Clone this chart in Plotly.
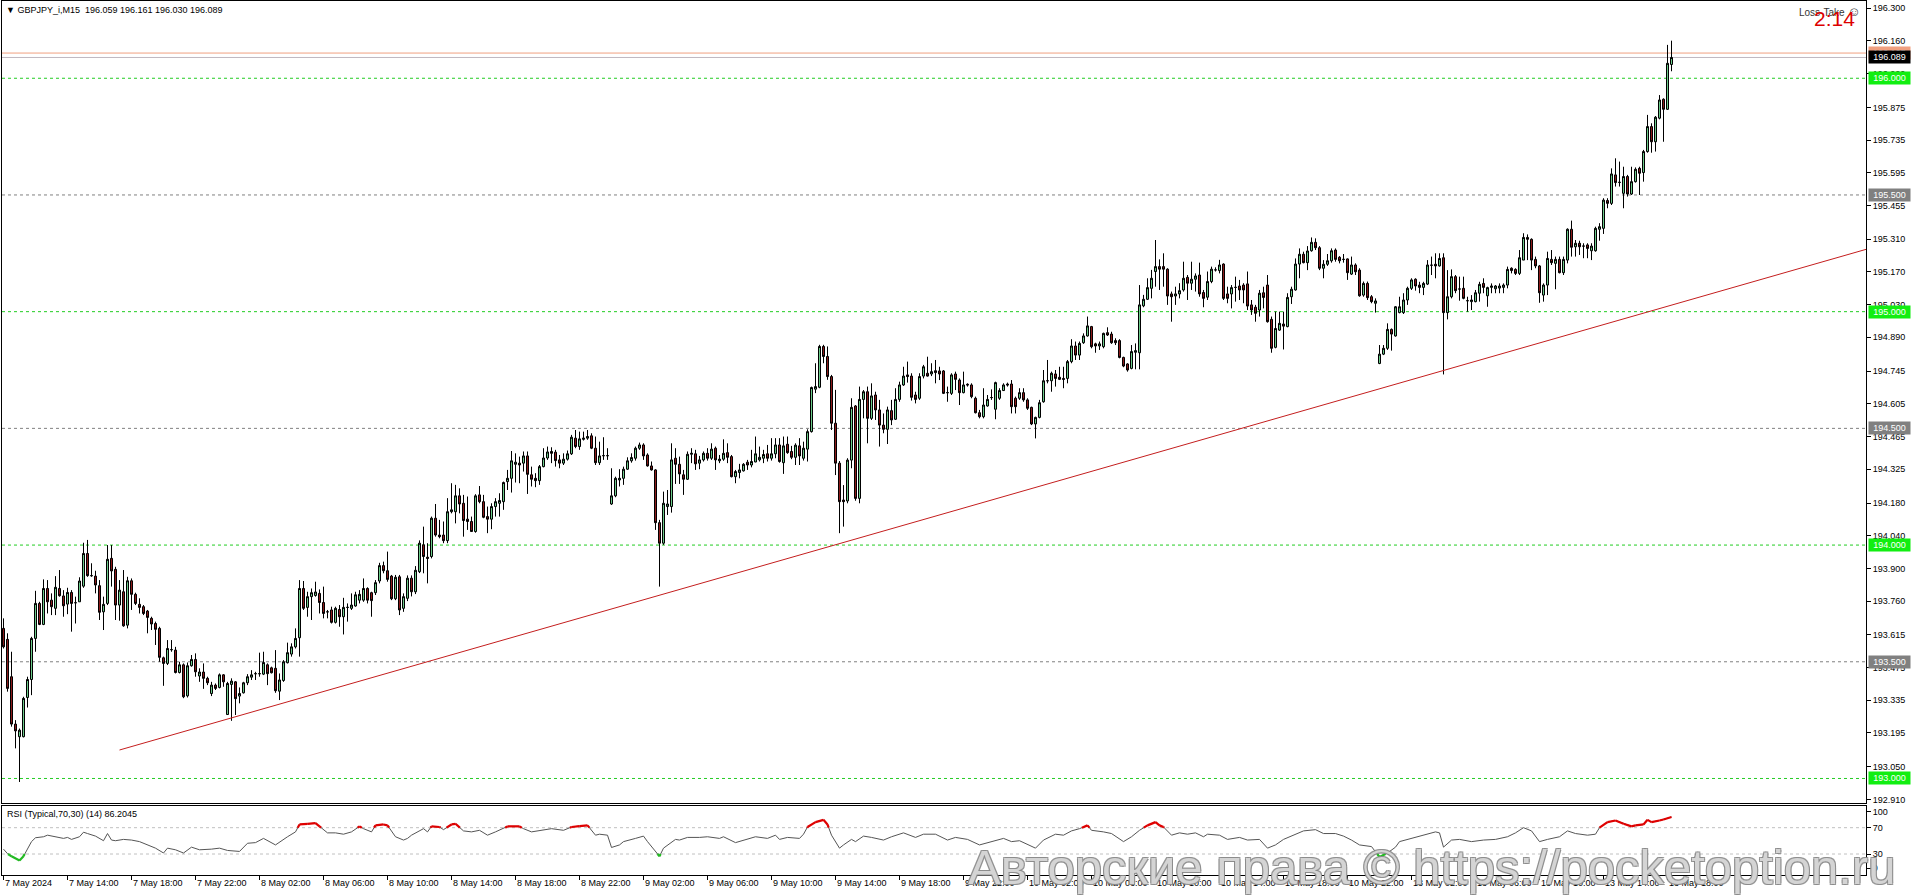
import plotly.graph_objects as go

# ---------------- data (GBPJPY_i, M15) ----------------
open_ = [
193.643,193.596,193.436,193.233,193.179,193.179,193.347,193.424,193.600,193.750,
193.660,193.814,193.764,193.729,193.814,193.782,193.747,193.797,193.753,193.757,
193.824,193.964,193.869,193.867,193.826,193.714,193.750,193.943,193.896,193.743,
193.800,193.657,193.847,193.789,193.746,193.736,193.717,193.686,193.664,193.643,
193.517,193.493,193.552,193.550,193.454,193.487,193.354,193.483,193.510,193.439,
193.456,193.429,193.364,193.400,193.390,193.444,193.274,193.403,193.414,193.353,
193.367,193.410,193.434,193.449,193.449,193.447,193.487,193.474,193.472,193.374,
193.420,193.496,193.533,193.564,193.603,193.814,193.733,193.779,193.784,193.793,
193.754,193.714,193.722,193.669,193.724,193.693,193.733,193.729,193.739,193.764,
193.764,193.814,193.796,193.796,193.846,193.912,193.890,193.867,193.770,193.864,
193.729,193.772,193.858,193.800,193.886,194.001,193.948,193.951,194.115,194.043,
194.043,194.019,194.143,194.143,194.211,194.179,194.111,194.101,194.058,194.215,
194.186,194.122,194.111,194.165,194.179,194.186,194.272,194.286,194.346,194.351,
194.351,194.382,194.301,194.286,194.276,194.336,194.373,194.401,194.398,194.365,
194.351,194.368,194.391,194.458,194.422,194.453,194.458,194.468,194.415,194.353,
194.383,194.383,194.176,194.211,194.279,194.286,194.325,194.361,194.372,194.415,
194.429,194.386,194.339,194.322,194.096,194.008,194.165,194.165,194.372,194.346,
194.301,194.282,194.389,194.391,194.351,194.365,194.393,194.372,194.415,194.361,
194.368,194.396,194.379,194.293,194.311,194.318,194.355,194.343,194.356,194.365,
194.372,194.391,194.372,194.391,194.429,194.353,194.432,194.401,194.376,194.425,
194.372,194.411,194.486,194.668,194.676,194.851,194.808,194.722,194.522,194.351,
194.193,194.189,194.364,194.596,194.200,194.624,194.657,194.543,194.643,194.579,
194.514,194.496,194.576,194.539,194.624,194.686,194.729,194.724,194.643,194.629,
194.724,194.736,194.733,194.747,194.746,194.746,194.653,194.650,194.733,194.707,
194.653,194.689,194.686,194.629,194.567,194.550,194.596,194.632,194.582,194.629,
194.662,194.690,194.690,194.629,194.629,194.653,194.622,194.590,194.519,194.547,
194.614,194.704,194.704,194.733,194.719,194.714,194.714,194.786,194.853,194.814,
194.867,194.896,194.936,194.862,194.853,194.850,194.910,194.904,194.876,194.876,
194.804,194.776,194.757,194.826,194.824,195.025,195.053,195.100,195.172,195.193,
195.193,195.182,195.076,195.067,195.076,195.093,195.147,195.122,195.139,195.157,
195.082,195.062,195.129,195.179,195.176,195.204,195.076,195.076,195.104,195.110,
195.114,195.119,195.029,195.019,195.007,195.081,195.114,194.967,194.847,194.921,
194.947,194.936,195.064,195.093,195.204,195.246,195.210,195.261,195.297,195.274,
195.186,195.203,195.218,195.264,195.233,195.224,195.226,195.161,195.200,195.178,
195.071,195.121,195.064,195.036,194.778,194.818,194.843,194.924,194.896,194.996,
194.996,195.050,195.100,195.139,195.114,195.104,195.118,195.199,195.203,195.196,
195.231,194.996,195.064,195.150,195.097,195.100,195.047,195.043,195.043,195.079,
195.121,195.068,195.104,195.098,195.101,195.104,195.114,195.186,195.181,195.164,
195.221,195.318,195.310,195.224,195.196,195.071,195.114,195.224,195.207,195.224,
195.167,195.221,195.353,195.278,195.293,195.281,195.286,195.261,195.261,195.353,
195.357,195.476,195.464,195.586,195.554,195.507,195.579,195.504,195.557,195.614,
195.596,195.686,195.793,195.728,195.829,195.910,195.867,196.059]

high_ = [
193.686,193.622,193.543,193.250,193.214,193.350,193.436,193.607,193.804,193.757,
193.853,193.850,193.793,193.867,193.893,193.807,193.817,193.807,193.779,193.862,
194.010,194.022,193.922,193.890,193.850,193.779,194.000,194.000,193.907,193.850,
193.893,193.864,193.857,193.796,193.772,193.743,193.722,193.693,193.672,193.650,
193.522,193.593,193.593,193.564,193.500,193.493,193.497,193.529,193.536,193.472,
193.493,193.436,193.414,193.407,193.450,193.447,193.414,193.429,193.417,193.390,
193.414,193.447,193.464,193.457,193.539,193.543,193.493,193.479,193.550,193.450,
193.507,193.582,193.579,193.643,193.850,193.846,193.800,193.814,193.843,193.810,
193.822,193.722,193.736,193.736,193.743,193.774,193.750,193.793,193.800,193.807,
193.857,193.819,193.800,193.850,193.924,193.929,193.972,193.872,193.872,193.872,
193.793,193.870,193.870,193.910,194.020,194.079,194.008,194.122,194.176,194.108,
194.101,194.201,194.265,194.258,194.243,194.215,194.208,194.122,194.218,194.253,
194.215,194.165,194.179,194.201,194.222,194.272,194.322,194.403,194.393,194.379,
194.401,194.401,194.336,194.308,194.343,194.415,194.422,194.419,194.408,194.386,
194.393,194.405,194.472,194.493,194.486,194.486,194.493,194.479,194.465,194.443,
194.462,194.415,194.329,194.293,194.325,194.336,194.376,194.393,194.422,194.439,
194.436,194.393,194.358,194.325,194.108,194.229,194.236,194.436,194.415,194.379,
194.322,194.401,194.415,194.408,194.382,194.401,194.415,194.436,194.422,194.386,
194.453,194.436,194.386,194.322,194.348,194.351,194.365,194.408,194.465,194.422,
194.408,194.429,194.458,194.458,194.458,194.465,194.465,194.425,194.436,194.458,
194.443,194.496,194.679,194.779,194.858,194.858,194.851,194.729,194.665,194.360,
194.257,194.372,194.629,194.600,194.679,194.664,194.679,194.693,194.657,194.622,
194.564,194.593,194.622,194.672,194.700,194.764,194.786,194.736,194.657,194.736,
194.772,194.807,194.779,194.793,194.764,194.750,194.679,194.736,194.743,194.714,
194.743,194.693,194.693,194.636,194.579,194.672,194.643,194.667,194.700,194.672,
194.693,194.696,194.707,194.636,194.672,194.672,194.629,194.593,194.550,194.622,
194.750,194.793,194.743,194.750,194.764,194.764,194.793,194.882,194.872,194.872,
194.907,194.979,194.939,194.867,194.872,194.910,194.933,194.914,194.886,194.882,
194.807,194.779,194.857,194.864,195.114,195.072,195.143,195.179,195.307,195.224,
195.250,195.186,195.086,195.107,195.122,195.214,195.157,195.214,195.164,195.210,
195.093,195.172,195.193,195.190,195.222,195.207,195.107,195.114,195.150,195.136,
195.122,195.172,195.050,195.029,195.093,195.107,195.157,194.979,195.000,195.000,
195.000,195.079,195.107,195.228,195.271,195.257,195.281,195.318,195.314,195.281,
195.221,195.247,195.271,195.271,195.238,195.247,195.228,195.236,195.207,195.186,
195.129,195.129,195.071,195.057,194.857,194.857,194.950,194.928,195.024,195.064,
195.079,195.107,195.143,195.143,195.128,195.128,195.221,195.236,195.250,195.250,
195.250,195.178,195.181,195.157,195.150,195.150,195.064,195.071,195.093,195.128,
195.143,195.107,195.121,195.114,195.121,195.121,195.193,195.190,195.186,195.264,
195.336,195.331,195.314,195.236,195.200,195.121,195.257,195.264,195.236,195.236,
195.236,195.357,195.390,195.307,195.304,195.293,195.293,195.293,195.364,195.379,
195.486,195.486,195.614,195.657,195.643,195.621,195.586,195.621,195.618,195.621,
195.693,195.843,195.807,195.838,195.928,195.914,196.143,196.161]

low_ = [
193.557,193.372,193.222,193.129,192.985,193.176,193.304,193.357,193.543,193.657,
193.657,193.707,193.700,193.700,193.779,193.693,193.704,193.629,193.664,193.757,
193.817,193.864,193.864,193.793,193.679,193.636,193.743,193.822,193.679,193.676,
193.650,193.643,193.722,193.743,193.707,193.700,193.622,193.636,193.572,193.500,
193.397,193.486,193.543,193.450,193.450,193.344,193.347,193.479,193.436,193.414,
193.384,193.400,193.353,193.379,193.386,193.393,193.272,193.247,193.272,193.322,
193.364,193.400,193.422,193.422,193.436,193.443,193.400,193.450,193.367,193.336,
193.414,193.493,193.522,193.557,193.522,193.722,193.693,193.679,193.779,193.707,
193.686,193.686,193.664,193.664,193.650,193.617,193.672,193.722,193.736,193.750,
193.757,193.750,193.693,193.786,193.836,193.879,193.843,193.764,193.764,193.700,
193.714,193.760,193.780,193.790,193.880,193.879,193.836,193.943,194.036,194.029,
194.008,194.008,194.136,194.093,194.136,194.036,194.065,194.058,194.053,194.179,
194.115,194.051,194.068,194.122,194.122,194.151,194.236,194.225,194.268,194.265,
194.315,194.219,194.251,194.248,194.258,194.333,194.365,194.351,194.336,194.329,
194.343,194.362,194.386,194.415,194.408,194.448,194.451,194.411,194.343,194.343,
194.365,194.365,194.172,194.205,194.251,194.258,194.322,194.353,194.362,194.408,
194.365,194.336,194.319,194.065,193.822,194.001,194.129,194.139,194.262,194.262,
194.215,194.279,194.351,194.322,194.325,194.358,194.362,194.365,194.322,194.351,
194.361,194.351,194.290,194.265,194.286,194.315,194.322,194.333,194.355,194.358,
194.351,194.358,194.362,194.372,194.353,194.305,194.391,194.368,194.343,194.343,
194.362,194.358,194.482,194.651,194.672,194.779,194.708,194.493,194.300,194.051,
194.079,194.179,194.329,194.190,194.179,194.543,194.436,194.536,194.536,194.422,
194.479,194.433,194.514,194.536,194.614,194.682,194.696,194.619,194.607,194.622,
194.714,194.722,194.724,194.693,194.707,194.647,194.614,194.643,194.664,194.600,
194.650,194.679,194.629,194.564,194.543,194.543,194.593,194.622,194.539,194.622,
194.660,194.679,194.564,194.564,194.622,194.614,194.579,194.514,194.457,194.543,
194.610,194.693,194.657,194.679,194.707,194.672,194.693,194.779,194.793,194.793,
194.862,194.893,194.843,194.824,194.836,194.843,194.896,194.862,194.857,194.800,
194.762,194.743,194.753,194.753,194.753,195.019,195.050,195.057,195.107,195.093,
195.107,195.029,194.957,195.029,195.057,195.086,195.050,195.093,195.086,195.064,
195.019,195.050,195.122,195.172,195.164,195.050,195.036,195.014,195.043,195.050,
195.036,195.007,194.986,194.957,194.979,195.014,194.953,194.824,194.843,194.918,
194.838,194.933,195.033,195.090,195.143,195.207,195.178,195.257,195.264,195.178,
195.143,195.196,195.210,195.214,195.207,195.210,195.136,195.157,195.157,195.064,
195.064,195.050,195.036,194.996,194.775,194.814,194.836,194.833,194.893,194.993,
194.990,195.029,195.093,195.090,195.079,195.071,195.114,195.157,195.143,195.193,
194.731,194.967,195.057,195.079,195.047,195.053,195.000,195.007,195.040,195.043,
195.079,195.021,195.079,195.079,195.079,195.079,195.100,195.164,195.157,195.157,
195.221,195.221,195.178,195.186,195.038,195.043,195.071,195.200,195.096,195.164,
195.157,195.207,195.236,195.236,195.243,195.229,195.229,195.221,195.257,195.304,
195.333,195.443,195.457,195.536,195.536,195.443,195.493,195.500,195.553,195.500,
195.557,195.681,195.681,195.686,195.824,195.728,195.864,196.030]

close_ = [
193.564,193.386,193.233,193.204,193.207,193.343,193.424,193.600,193.750,193.660,
193.814,193.757,193.736,193.819,193.783,193.740,193.797,193.750,193.753,193.846,
193.964,193.869,193.869,193.829,193.712,193.746,193.939,193.889,193.743,193.807,
193.654,193.847,193.789,193.750,193.733,193.707,193.690,193.662,193.639,193.519,
193.493,193.557,193.552,193.454,193.487,193.350,193.483,193.510,193.457,193.456,
193.429,193.410,193.400,193.386,193.444,193.414,193.407,193.417,193.342,193.364,
193.410,193.436,193.444,193.449,193.449,193.497,193.449,193.453,193.376,193.422,
193.500,193.539,193.564,193.600,193.814,193.729,193.779,193.796,193.799,193.754,
193.707,193.714,193.669,193.729,193.693,193.733,193.733,193.743,193.787,193.789,
193.814,193.764,193.762,193.839,193.912,193.890,193.853,193.770,193.862,193.722,
193.779,193.858,193.800,193.892,194.008,193.951,193.943,194.115,194.043,194.036,
194.019,194.143,194.151,194.211,194.176,194.105,194.101,194.058,194.211,194.186,
194.119,194.111,194.165,194.186,194.191,194.268,194.286,194.361,194.355,194.343,
194.382,194.303,194.282,194.276,194.336,194.373,194.399,194.393,194.362,194.351,
194.368,194.391,194.462,194.422,194.455,194.458,194.465,194.415,194.353,194.382,
194.383,194.383,194.211,194.286,194.286,194.325,194.361,194.375,194.415,194.429,
194.382,194.339,194.322,194.096,194.008,194.179,194.176,194.365,194.346,194.305,
194.282,194.389,194.393,194.348,194.365,194.393,194.372,194.411,194.365,194.368,
194.393,194.376,194.293,194.315,194.322,194.346,194.343,194.358,194.391,194.376,
194.388,194.372,194.391,194.429,194.358,194.425,194.396,194.376,194.428,194.382,
194.415,194.486,194.675,194.679,194.851,194.808,194.722,194.522,194.351,194.186,
194.186,194.364,194.590,194.200,194.624,194.657,194.543,194.639,194.579,194.514,
194.496,194.579,194.536,194.624,194.686,194.724,194.722,194.633,194.624,194.722,
194.764,194.724,194.743,194.739,194.733,194.650,194.653,194.729,194.710,194.653,
194.686,194.686,194.636,194.567,194.550,194.600,194.624,194.632,194.696,194.662,
194.686,194.686,194.593,194.593,194.653,194.622,194.586,194.519,194.547,194.610,
194.704,194.704,194.736,194.714,194.710,194.710,194.786,194.853,194.814,194.864,
194.896,194.939,194.850,194.853,194.862,194.907,194.900,194.867,194.867,194.804,
194.767,194.750,194.829,194.833,195.029,195.053,195.103,195.143,195.193,195.182,
195.182,195.067,195.064,195.076,195.090,195.143,195.122,195.139,195.153,195.076,
195.057,195.129,195.182,195.179,195.200,195.057,195.057,195.103,195.104,195.093,
195.093,195.024,195.007,194.993,195.079,195.061,194.957,194.843,194.928,194.950,
194.938,195.061,195.096,195.204,195.246,195.210,195.260,195.297,195.274,195.186,
195.203,195.218,195.261,195.224,195.218,195.224,195.167,195.200,195.171,195.068,
195.121,195.060,195.043,195.046,194.818,194.843,194.924,194.904,195.021,195.021,
195.050,195.100,195.136,195.110,195.104,195.121,195.200,195.199,195.196,195.228,
194.996,195.064,195.150,195.090,195.097,195.057,195.047,195.050,195.081,195.117,
195.104,195.103,195.110,195.110,195.110,195.114,195.181,195.176,195.164,195.231,
195.318,195.310,195.221,195.196,195.081,195.114,195.228,195.210,195.224,195.167,
195.224,195.353,195.276,195.293,195.278,195.281,195.271,195.281,195.357,195.364,
195.478,195.464,195.590,195.553,195.554,195.579,195.504,195.557,195.610,195.593,
195.686,195.793,195.728,195.833,195.907,195.867,196.064,196.089]

# RSI(14) readings: bar index and value
rsi_bar = [0,1,2,4,5,6,7,8,10,11,13,15,16,17,19,20,21,23,25,26,27,28,30,32,34,36,38,40,41,43,
           45,47,49,52,54,56,59,61,63,65,67,68,71,73,74,76,78,79,81,83,85,87,89,90,92,93,95,96,98,100,
           101,102,105,106,107,109,110,112,113,115,117,119,121,123,125,126,129,130,132,135,137,140,142,144,146,148,149,151,152,154,
           155,158,160,161,164,165,168,169,171,
           174,176,179,180,183,185,188,191,193,194,196,199,200,201,203,205,206,207,209,210,212,213,215,217,220,222,225,228,230,233,
           236,238,241,244,247,250,252,254,258,260,263,265,267,269,271,272,275,277,280,282,284,286,288,289,290,292,294,296,298,300,
           301,304,306,309,311,314,316,318,320,323,325,328,330,333,335,337,339,342,344,346,348,
           349,351,353,356,358,359,360,362,364,367,370,373,376,378,380,382,384,386,389,391,393,396,398,399,401,403,405,407,408,410,
           411,412,414,415,417]
rsi_val = [37.4,30.5,26.5,20.1,26.5,38.9,48.8,54.7,56.2,58.6,56.2,53.7,55.2,52.2,56.2,63.1,61.1,57.2,50.2,61.1,
           51.2,50.2,52.2,51.2,48.8,43.8,38.9,31.5,38.9,36.4,31.5,40.4,36.4,37.4,38.9,35.4,33.9,46.3,47.3,53.7,
           46.3,43.8,56.2,63.6,74.9,75.9,76.9,72.0,62.1,62.1,60.1,63.6,72.0,68.5,63.6,73.5,74.9,73.5,56.2,51.2,
           53.7,58.6,68.5,63.6,72.0,71.0,67.0,74.9,75.9,65.1,63.6,66.0,58.6,63.6,68.5,72.0,72.0,68.5,63.6,67.0,
           68.5,66.0,71.0,72.5,73.5,58.6,60.1,58.6,39.9,43.8,48.8,53.7,57.2,48.8,26.5,38.9,52.2,51.2,55.2,
           55.2,56.2,53.7,56.2,47.3,51.2,56.2,53.7,58.6,52.2,55.2,53.7,60.1,71.0,78.4,81.9,74.9,58.6,38.9,43.8,
           52.2,48.8,57.2,55.2,51.2,56.2,62.1,55.2,60.1,60.1,51.2,55.2,52.2,43.8,48.8,53.7,48.8,50.2,38.9,51.2,
           60.1,58.6,65.1,68.5,73.5,66.0,63.6,61.1,48.8,56.2,66.0,73.5,78.4,73.5,71.0,58.6,62.1,60.1,62.1,56.2,
           60.1,58.6,52.2,55.2,51.2,52.2,38.9,43.8,52.2,60.1,65.1,67.0,61.1,61.1,57.2,51.2,43.8,41.3,25.5,31.5,40.4,
           48.8,52.2,55.2,60.1,63.6,62.1,40.4,51.2,52.2,48.8,51.2,52.2,56.2,62.1,70.0,65.1,48.8,52.2,56.2,65.1,
           61.1,58.6,60.1,70.0,78.4,80.9,75.9,72.0,73.5,74.9,81.9,78.4,80.9,82.4,86.2]
rsi_levels = [70, 30]
rsi_label_vals = [93.9, 70, 30, 8.7]
rsi_label_text = ["100", "70", "30", "0"]

time_tick_bars = list(range(0, 417, 16))
time_tick_labels = ["7 May 2024", "7 May 14:00", "7 May 18:00", "7 May 22:00", "8 May 02:00", "8 May 06:00",
                    "8 May 10:00", "8 May 14:00", "8 May 18:00", "8 May 22:00", "9 May 02:00", "9 May 06:00",
                    "9 May 10:00", "9 May 14:00", "9 May 18:00", "9 May 22:00", "10 May 02:00", "10 May 06:00",
                    "10 May 10:00", "10 May 14:00", "10 May 18:00", "10 May 22:00", "13 May 02:00", "13 May 06:00",
                    "13 May 10:00", "13 May 14:00", "13 May 18:00"]

price_ticks = [196.300, 196.160, 196.020, 195.875, 195.735, 195.595, 195.455, 195.310, 195.170, 195.030,
               194.890, 194.745, 194.605, 194.465, 194.325, 194.180, 194.040, 193.900, 193.760, 193.615,
               193.475, 193.335, 193.195, 193.050, 192.910]
green_levels = [196.0, 195.0, 194.0, 193.0]
gray_levels = [195.5, 194.5, 193.5]
bid_price = 196.089
ask_price = 196.108
trend_bars = [29, 360]
trend_prices = [193.122, 194.748]

# ---------------- styling ----------------
FONT = "Liberation Sans, Arial, sans-serif"
BULL = "#6CCB8A"
BEAR = "#8B1A1A"
LVL_GREEN = "#22CC22"
LVL_GREEN_BG = "#11EE11"
LVL_GRAY = "#808080"
X_MIN, X_MAX = -0.375, 465.625

assert len(open_) == len(high_) == len(low_) == len(close_)
assert len(rsi_bar) == len(rsi_val)
hi = [max(h, o, c) for h, o, c in zip(high_, open_, close_)]
lo = [min(l, o, c) for l, o, c in zip(low_, open_, close_)]
bars = list(range(len(close_)))

fig = go.Figure()

# trend line (ray to the right edge)
slope = (trend_prices[1] - trend_prices[0]) / (trend_bars[1] - trend_bars[0])
fig.add_trace(go.Scatter(x=[trend_bars[0], X_MAX],
                         y=[trend_prices[0], trend_prices[0] + slope * (X_MAX - trend_bars[0])],
                         mode="lines", line=dict(color="#C41E1E", width=1),
                         xaxis="x", yaxis="y", hoverinfo="skip", showlegend=False))

fig.add_trace(go.Candlestick(
    x=bars, open=open_, high=hi, low=lo, close=close_,
    increasing=dict(fillcolor=BULL, line=dict(color="black", width=1)),
    decreasing=dict(fillcolor=BEAR, line=dict(color="black", width=1)),
    whiskerwidth=0, xaxis="x", yaxis="y", hoverinfo="skip", showlegend=False))

# RSI
fig.add_trace(go.Scatter(x=rsi_bar, y=rsi_val, mode="lines",
                         line=dict(color="#555555", width=1),
                         xaxis="x2", yaxis="y2", hoverinfo="skip", showlegend=False))


def zone_segments(xs, ys, thr, above):
    sx, sy = [], []
    for i in range(len(xs) - 1):
        x0, y0, x1, y1 = xs[i], ys[i], xs[i + 1], ys[i + 1]
        in0 = y0 >= thr if above else y0 <= thr
        in1 = y1 >= thr if above else y1 <= thr
        if not in0 and not in1:
            continue
        if in0 and in1:
            sx += [x0, x1, None]; sy += [y0, y1, None]
        else:
            t = (thr - y0) / (y1 - y0)
            xc = x0 + t * (x1 - x0)
            if in0:
                sx += [x0, xc, None]; sy += [y0, thr, None]
            else:
                sx += [xc, x1, None]; sy += [thr, y1, None]
    return sx, sy


rx, ry = zone_segments(rsi_bar, rsi_val, 70, True)
gx, gy = zone_segments(rsi_bar, rsi_val, 30, False)
fig.add_trace(go.Scatter(x=rx, y=ry, mode="lines", line=dict(color="#E00000", width=2.2),
                         xaxis="x2", yaxis="y2", hoverinfo="skip", showlegend=False))
fig.add_trace(go.Scatter(x=gx, y=gy, mode="lines", line=dict(color="#22BB22", width=2.2),
                         xaxis="x2", yaxis="y2", hoverinfo="skip", showlegend=False))

shapes = []
for lv in green_levels:
    shapes.append(dict(type="line", xref="x domain", yref="y", x0=0, x1=1, y0=lv, y1=lv,
                       line=dict(color=LVL_GREEN, width=1, dash="3px,3px"), layer="below"))
for lv in gray_levels:
    shapes.append(dict(type="line", xref="x domain", yref="y", x0=0, x1=1, y0=lv, y1=lv,
                       line=dict(color=LVL_GRAY, width=1, dash="3px,3px"), layer="below"))
shapes.append(dict(type="line", xref="x domain", yref="y", x0=0, x1=1, y0=ask_price, y1=ask_price,
                   line=dict(color="#F0A080", width=1), layer="below"))
shapes.append(dict(type="line", xref="x domain", yref="y", x0=0, x1=1, y0=bid_price, y1=bid_price,
                   line=dict(color="#C0B8C0", width=1), layer="below"))
for lv in rsi_levels:
    shapes.append(dict(type="line", xref="x2 domain", yref="y2", x0=0, x1=1, y0=lv, y1=lv,
                       line=dict(color="#C0C0C0", width=1, dash="3px,3px"), layer="below"))

ann = []


def axis_label(price, text, bg, fg="white"):
    ann.append(dict(x=1, xref="paper", xanchor="left", xshift=2, y=price, yref="y", yanchor="middle",
                    text=text, showarrow=False, bgcolor=bg, borderpad=1, width=39, align="center",
                    font=dict(family=FONT, size=9, color=fg)))


for lv in green_levels:
    axis_label(lv, f"{lv:.3f}", LVL_GREEN_BG)
for lv in gray_levels:
    axis_label(lv, f"{lv:.3f}", LVL_GRAY)
axis_label(ask_price, f"{ask_price:.3f}", "#F0A080")
axis_label(bid_price, f"{bid_price:.3f}", "black")

for b, t in zip(time_tick_bars, time_tick_labels):
    ann.append(dict(x=b, xref="x2", xanchor="left", y=0, yref="paper", yanchor="top", yshift=-2,
                    text=t, showarrow=False, borderpad=0,
                    font=dict(family=FONT, size=9, color="black")))

nb = "\u00a0"
ann.append(dict(x=0, xref="paper", xanchor="left", xshift=3, y=1, yref="paper", yanchor="top", yshift=-3,
                text=f"▼{nb}GBPJPY_i,M15{nb}{nb}{open_[-1]:.3f} {high_[-1]:.3f} {low_[-1]:.3f} {close_[-1]:.3f}",
                showarrow=False, borderpad=0, font=dict(family=FONT, size=9, color="black")))
ann.append(dict(x=0, xref="paper", xanchor="left", xshift=4, y=1, yref="y2 domain", yanchor="top", yshift=-2,
                text=f"RSI (Typical,70,30) (14) {86.2045:.4f}",
                showarrow=False, borderpad=0, font=dict(family=FONT, size=9, color="black")))
ann.append(dict(x=1, xref="paper", xanchor="right", xshift=-4, y=1, yref="paper", yanchor="top", yshift=-2,
                text="Loss-Take <span style='font-size:13px'>☺</span>", showarrow=False, borderpad=0,
                font=dict(family=FONT, size=10, color="#333333")))
ann.append(dict(x=1, xref="paper", xanchor="right", xshift=-10, y=1, yref="paper", yanchor="top", yshift=-5,
                text="2:14", showarrow=False, borderpad=0,
                font=dict(family=FONT, size=21, color="#DD0000")))
ann.append(dict(x=1, xref="paper", xanchor="right", xshift=30, y=0, yref="paper", yanchor="middle", yshift=8,
                text="Авторские права © https://pocketoption.ru", showarrow=False, borderpad=0,
                font=dict(family=FONT, size=49, color="rgba(222,222,222,0.88)",
                          shadow="1px 1px 0 #8a8a8a, -1px -1px 0 #8a8a8a, 1px -1px 0 #8a8a8a, -1px 1px 0 #8a8a8a")))

axis_common = dict(showgrid=False, zeroline=False, showline=True, mirror=True, linecolor="black", linewidth=1)

fig.update_layout(
    width=1912, height=896,
    margin=dict(l=2, r=46, t=1, b=21),
    paper_bgcolor="white", plot_bgcolor="white",
    showlegend=False, hovermode=False,
    boxgap=0.5, boxgroupgap=0,
    font=dict(family=FONT, size=9, color="black"),
    xaxis=dict(domain=[0, 1], anchor="y", range=[X_MIN, X_MAX], showticklabels=False, ticks="",
               rangeslider=dict(visible=False), fixedrange=True, **axis_common),
    yaxis=dict(domain=[0.0824, 1], anchor="x", side="right", range=[192.895, 196.331],
               tickvals=price_ticks, ticktext=[f"{p:.3f}" for p in price_ticks],
               ticks="outside", ticklen=4, tickcolor="black", tickfont=dict(size=9, family=FONT),
               fixedrange=True, **axis_common),
    xaxis2=dict(domain=[0, 1], anchor="y2", range=[X_MIN, X_MAX], matches="x",
                tickvals=time_tick_bars, showticklabels=False, ticks="outside", ticklen=4, tickcolor="black",
                fixedrange=True, **axis_common),
    yaxis2=dict(domain=[0, 0.079], anchor="x2", side="right", range=[-1.9, 103],
                tickvals=rsi_label_vals, ticktext=rsi_label_text, ticks="outside", ticklen=4,
                tickcolor="black", tickfont=dict(size=9, family=FONT), fixedrange=True, **axis_common),
    shapes=shapes,
    annotations=ann,
)

fig.write_html("out.html", config={"displayModeBar": False},
               post_script="document.body.style.margin='0';document.body.style.overflow='hidden';")
